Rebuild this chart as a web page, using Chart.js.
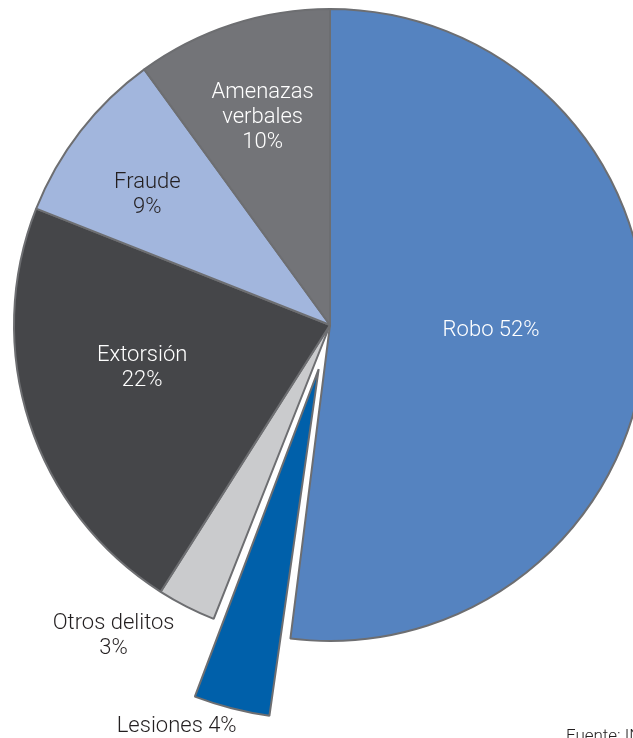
<!DOCTYPE html>
<html>
<head>
<meta charset="utf-8">
<script src="https://cdn.jsdelivr.net/npm/chart.js@4.4.1/dist/chart.umd.min.js"></script>
<style>
    body { margin: 0; background: #fff; overflow: hidden; }
    #wrap { position: relative; width: 633px; height: 738px; overflow: hidden; }
    #pieChart { position: absolute; left: 0; top: 0; }
    #source {
        position: absolute; left: 566px; top: 725px; white-space: nowrap;
        font-family: 'Roboto', 'Liberation Sans', sans-serif; font-weight: 300;
        font-size: 17px; color: #231f20;
    }
</style>
</head>
<body>
<div id="wrap">
    <canvas id="pieChart" width="660" height="738"></canvas>
    <div id="source">Fuente: INEGI</div>
</div>
<script>
const categories = ['Robo', 'Lesiones', 'Otros delitos', 'Extorsión', 'Fraude', 'Amenazas\nverbales'];
const shares = [52, 4, 3, 22, 9, 10];
const sliceColors = ['#5583c0', '#0060aa', '#cacbcd', '#454649', '#a2b6dd', '#737478'];
// Chart.js moves an arc by roughly 0.44 x offset for a slice this thin, so 182 pushes Lesiones out ~80px
const sliceOffsets = [0, 182, 0, 0, 0, 0];

// where each label sits: angle shift (deg) from the slice middle, distance as a share of the radius
const labelSpots = [
    { shift: -1.5, dist: 0.51, color: '#ffffff', inline: true },
    { shift: 6.5, dist: 1.36, color: '#231f20', inline: true },
    { shift: 7.8, dist: 1.2, color: '#231f20', inline: false },
    { shift: 5, dist: 0.61, color: '#ffffff', inline: false },
    { shift: -2.3, dist: 0.71, color: '#231f20', inline: false },
    { shift: 0, dist: 0.69, color: '#ffffff', inline: false }
];

const sliceLabels = {
    id: 'sliceLabels',
    afterDatasetsDraw(chart) {
        const ctx = chart.ctx;
        const arcs = chart.getDatasetMeta(0).data;
        ctx.save();
        ctx.font = '300 22px Roboto, "Liberation Sans", sans-serif';
        ctx.textAlign = 'center';
        ctx.textBaseline = 'middle';
        arcs.forEach((arc, i) => {
            const spot = labelSpots[i];
            const mid = (arc.startAngle + arc.endAngle) / 2 + spot.shift * Math.PI / 180;
            const r = arc.outerRadius * spot.dist;
            const x = arc.x + Math.cos(mid) * r;
            const y = arc.y + Math.sin(mid) * r;
            let lines = categories[i].split('\n');
            if (spot.inline) {
                lines = [lines.join(' ') + ' ' + shares[i] + '%'];
            } else {
                lines.push(shares[i] + '%');
            }
            ctx.fillStyle = spot.color;
            const lineH = 25;
            const top = y - (lines.length - 1) * lineH / 2;
            lines.forEach((line, k) => ctx.fillText(line, x, top + k * lineH));
        });
        ctx.restore();
    }
};

const ctx = document.getElementById('pieChart').getContext('2d');
const pieChart = new Chart(ctx, {
    type: 'pie',
    data: {
        labels: categories,
        datasets: [{
            data: shares,
            backgroundColor: sliceColors,
            borderColor: '#6d6e71',
            borderWidth: 2,
            offset: sliceOffsets,
            hoverOffset: 0
        }]
    },
    options: {
        responsive: false,
        animation: false,
        radius: 316,
        layout: { padding: { bottom: 88 } },
        plugins: {
            legend: { display: false },
            tooltip: { enabled: false }
        }
    },
    plugins: [sliceLabels]
});
</script>
</body>
</html>
